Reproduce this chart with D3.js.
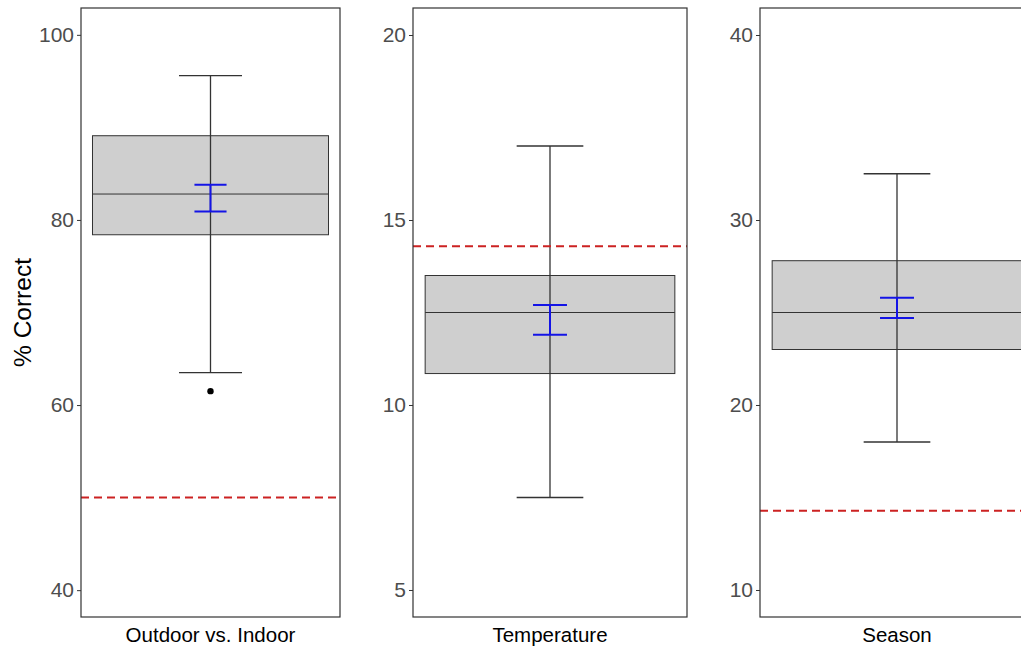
<!DOCTYPE html>
<html>
<head>
<meta charset="utf-8">
<script src="https://cdn.jsdelivr.net/npm/d3@7"></script>
<style>
  body { margin: 0; background: #fff; }
  svg { display: block; font-family: Arial, "Liberation Sans", sans-serif; }
</style>
</head>
<body>
<svg id="chart" width="1021" height="649"></svg>
<script>
// data
var categories = ["Outdoor vs. Indoor", "Temperature", "Season"];
var q1 = [78.4, 10.85, 23.0];
var median = [82.8, 12.5, 25.0];
var q3 = [89.1, 13.5, 27.8];
var whiskLow = [63.5, 7.5, 18.0];
var whiskHigh = [95.6, 17.0, 32.5];
var outliers = [[61.5], [], []];
var ciLow = [80.9, 11.9, 24.7];
var ciHigh = [83.8, 12.7, 25.8];
var chance = [50, 14.29, 14.29];
var yDomains = [[37.1, 102.9], [4.27, 20.73], [8.54, 41.46]];
var yTicks = [[40, 60, 80, 100], [5, 10, 15, 20], [10, 20, 30, 40]];

// panel placement
var panels = [
  { left: 81, width: 259 },
  { left: 413, width: 274 },
  { left: 760, width: 274 }
];
var plotTop = 8, plotBottom = 617;

var svg = d3.select("#chart");

svg.append("text")
  .attr("transform", "translate(31," + ((plotTop + plotBottom) / 2) + ") rotate(-90)")
  .attr("text-anchor", "middle")
  .attr("font-size", 24.5)
  .attr("fill", "#000")
  .text("% Correct");

categories.forEach(function(cat, i) {
  var p = panels[i];
  var g = svg.append("g").attr("transform", "translate(" + p.left + ",0)");

  var x = d3.scaleBand().domain([cat]).range([0, p.width])
    .paddingInner(0).paddingOuter(0.0487);
  var y = d3.scaleLinear().domain(yDomains[i]).range([plotBottom, plotTop]);

  var bx = x(cat), bw = x.bandwidth(), cx = bx + bw / 2;
  var capW = bw * 0.267, ciW = bw * 0.136;

  // box
  g.append("rect")
    .attr("x", bx).attr("width", bw)
    .attr("y", y(q3[i])).attr("height", y(q1[i]) - y(q3[i]))
    .attr("fill", "#cfcfcf")
    .attr("stroke", "#333").attr("stroke-width", 1);

  // whisker line
  g.append("line")
    .attr("x1", cx).attr("x2", cx)
    .attr("y1", y(whiskLow[i])).attr("y2", y(whiskHigh[i]))
    .attr("stroke", "#333").attr("stroke-width", 1.3);

  // median
  g.append("line")
    .attr("x1", bx).attr("x2", bx + bw)
    .attr("y1", y(median[i])).attr("y2", y(median[i]))
    .attr("stroke", "#333").attr("stroke-width", 1);

  // whisker caps
  [whiskLow[i], whiskHigh[i]].forEach(function(v) {
    g.append("line")
      .attr("x1", cx - capW / 2).attr("x2", cx + capW / 2)
      .attr("y1", y(v)).attr("y2", y(v))
      .attr("stroke", "#333").attr("stroke-width", 1.3);
  });

  // outliers
  g.selectAll("circle.out").data(outliers[i]).enter().append("circle")
    .attr("class", "out")
    .attr("cx", cx).attr("cy", function(d) { return y(d); })
    .attr("r", 3.2).attr("fill", "#000");

  // blue CI bar
  g.append("line")
    .attr("x1", cx).attr("x2", cx)
    .attr("y1", y(ciLow[i])).attr("y2", y(ciHigh[i]))
    .attr("stroke", "#1414e6").attr("stroke-width", 2);
  [ciLow[i], ciHigh[i]].forEach(function(v) {
    g.append("line")
      .attr("x1", cx - ciW / 2).attr("x2", cx + ciW / 2)
      .attr("y1", y(v)).attr("y2", y(v))
      .attr("stroke", "#1414e6").attr("stroke-width", 2);
  });

  // chance line
  g.append("line")
    .attr("x1", 0).attr("x2", p.width)
    .attr("y1", y(chance[i])).attr("y2", y(chance[i]))
    .attr("stroke", "#cc2222").attr("stroke-width", 2)
    .attr("stroke-dasharray", "8,5");

  // panel border
  g.append("rect")
    .attr("x", 0).attr("y", plotTop)
    .attr("width", p.width).attr("height", plotBottom - plotTop)
    .attr("fill", "none").attr("stroke", "#333").attr("stroke-width", 1.2);

  // y axis
  var ax = g.append("g").call(d3.axisLeft(y).tickValues(yTicks[i]).tickSize(4).tickPadding(3));
  ax.select(".domain").remove();
  ax.selectAll(".tick line").attr("stroke", "#333");
  ax.selectAll(".tick text").attr("fill", "#4d4d4d").attr("font-size", 21)
    .attr("font-family", "Arial, 'Liberation Sans', sans-serif");

  // x label
  g.append("text")
    .attr("x", cx).attr("y", 642)
    .attr("text-anchor", "middle")
    .attr("font-size", 20.5)
    .attr("fill", "#000")
    .text(cat);
});
</script>
</body>
</html>
